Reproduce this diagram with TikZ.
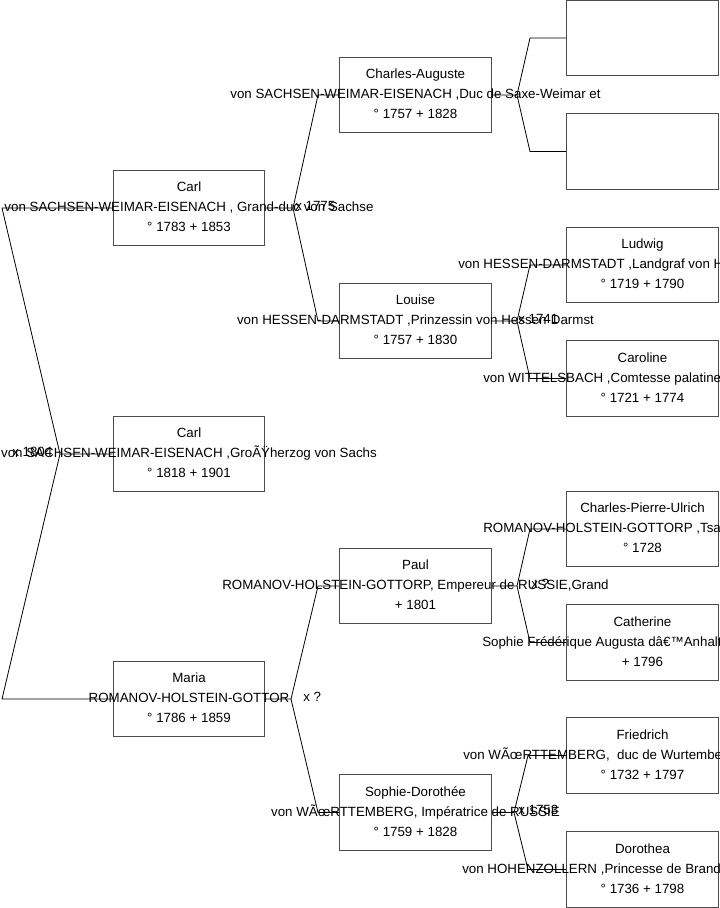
\documentclass[tikz,border=0pt]{standalone}
\usepackage{fontspec}
\setmainfont{Liberation Sans}
\usetikzlibrary{calc}
\tikzset{
  pbox/.style={draw=black!70, line width=0.9pt, rectangle, minimum width=113.5pt, minimum height=56.5pt, inner sep=0pt},
  ptext/.style={anchor=base, inner sep=0pt, font=\fontsize{10}{12}\selectfont},
  wtext/.style={anchor=base west, inner sep=0pt, font=\fontsize{10}{12}\selectfont},
  mtext/.style={anchor=base west, inner sep=0pt, font=\fontsize{10}{12}\selectfont},
  conn/.style={draw=black, line width=0.6pt},
}
\newcommand{\pers}[6]{%
  \node[pbox] (#1) at (#2,#3) {};
  \node[ptext] (#1-1) at (#2,#3-16.5) {#4};
  \node[ptext] (#1-2) at (#2,#3+3.5) {#5};
  \node[ptext] (#1-3) at (#2,#3+23.5) {#6};
}
\newcommand{\persw}[7]{%
  \node[pbox] (#1) at (#2,#3) {};
  \node[ptext] (#1-1) at (#2,#3-16.5) {#4};
  \node[wtext] (#1-2) at (#7,#3+3.5) {#5};
  \node[ptext] (#1-3) at (#2,#3+23.5) {#6};
}
\begin{document}
\begin{tikzpicture}[x=0.75pt,y=-0.75pt]
\useasboundingbox (0,0) rectangle (719,908);
\clip (0,0) rectangle (719,908);
\fill[white] (0,0) rectangle (719,908);

% generation 1
\pers{carlB}{189}{454}{Carl}{von SACHSEN-WEIMAR-EISENACH ,Gro\~{A}\"{Y}herzog von Sachs}{° 1818 + 1901}
% generation 2
\pers{carlA}{189}{208}{Carl}{von SACHSEN-WEIMAR-EISENACH , Grand-duc von Sachse}{° 1783 + 1853}
\pers{maria}{189}{699}{Maria}{ROMANOV-HOLSTEIN-GOTTOR}{° 1786 + 1859}
% generation 3
\pers{charles}{415.5}{95}{Charles-Auguste}{von SACHSEN-WEIMAR-EISENACH ,Duc de Saxe-Weimar et}{° 1757 + 1828}
\pers{louise}{415.5}{321}{Louise}{von HESSEN-DARMSTADT ,Prinzessin von Hessen-Darmst}{° 1757 + 1830}
\pers{paul}{415.5}{586}{Paul}{ROMANOV-HOLSTEIN-GOTTORP, Empereur de RUSSIE,Grand}{+ 1801}
\pers{sophie}{415.5}{812.5}{Sophie-Doroth\'ee}{von W\~{A}\oe{}RTTEMBERG, Imp\'eratrice de RUSSIE}{° 1759 + 1828}
% generation 4
\node[pbox] (empA) at (642.5,38) {};
\node[pbox] (empB) at (642.5,151.5) {};
\persw{ludwig}{642.5}{265}{Ludwig}{von HESSEN-DARMSTADT ,Landgraf von Hessen}{° 1719 + 1790}{458}
\persw{caroline}{642.5}{378.5}{Caroline}{von WITTELSBACH ,Comtesse palatine de}{° 1721 + 1774}{483}
\persw{cpu}{642.5}{529}{Charles-Pierre-Ulrich}{ROMANOV-HOLSTEIN-GOTTORP ,Tsar}{° 1728}{483}
\persw{catherine}{642.5}{642.5}{Catherine}{Sophie Fr\'ed\'erique Augusta d\^{a}€™Anhalt}{+ 1796}{482}
\persw{friedrich}{642.5}{755.5}{Friedrich}{von W\~{A}\oe{}RTTEMBERG,\ \ duc de Wurtemberg}{° 1732 + 1797}{463}
\persw{dorothea}{642.5}{869.5}{Dorothea}{von HOHENZOLLERN ,Princesse de Brandebourg}{° 1736 + 1798}{462}

% fork coordinates
\coordinate (f0) at (60,454);
\coordinate (f0a) at (2,208);
\coordinate (f0b) at (2,699);
\coordinate (f1) at (293,208);
\coordinate (f1a) at (318,95);
\coordinate (f1b) at (318,321);
\coordinate (f2) at (291,699);
\coordinate (f2a) at (318,586);
\coordinate (f2b) at (318,812.5);
\coordinate (f3) at (517,95);
\coordinate (f3a) at (530,38);
\coordinate (f3b) at (530,151.5);
\coordinate (f4) at (517,321);
\coordinate (f4a) at (530,265);
\coordinate (f4b) at (530,378.5);
\coordinate (f5) at (517,586);
\coordinate (f5a) at (530,529);
\coordinate (f5b) at (530,642.5);
\coordinate (f6) at (514,812.5);
\coordinate (f6a) at (528,755.5);
\coordinate (f6b) at (528,869.5);

% connectors
\draw[conn] (carlB.west) -- (f0) -- (f0a) -- (carlA.west);
\draw[conn] (f0) -- (f0b) -- (maria.west);
\draw[conn] (carlA.east) -- (f1) -- (f1a) -- (charles.west);
\draw[conn] (f1) -- (f1b) -- (louise.west);
\draw[conn] (maria.east) -- (f2) -- (f2a) -- (paul.west);
\draw[conn] (f2) -- (f2b) -- (sophie.west);
\draw[conn] (charles.east) -- (f3) -- (f3a) -- (empA.west);
\draw[conn] (f3) -- (f3b) -- (empB.west);
\draw[conn] (louise.east) -- (f4) -- (f4a) -- (ludwig.west);
\draw[conn] (f4) -- (f4b) -- (caroline.west);
\draw[conn] (paul.east) -- (f5) -- (f5a) -- (cpu.west);
\draw[conn] (f5) -- (f5b) -- (catherine.west);
\draw[conn] (sophie.east) -- (f6) -- (f6a) -- (friedrich.west);
\draw[conn] (f6) -- (f6b) -- (dorothea.west);

% marriage labels
\node[mtext] (m0) at (12,456) {x 1804};
\node[mtext] (m1) at (295,210) {x 1775};
\node[mtext] (m2) at (303,701) {x ?};
\node[mtext] (m3) at (518,323) {x 1741};
\node[mtext] (m4) at (531,588) {x ?};
\node[mtext] (m5) at (518,814.5) {x 1753};
\end{tikzpicture}
\end{document}
